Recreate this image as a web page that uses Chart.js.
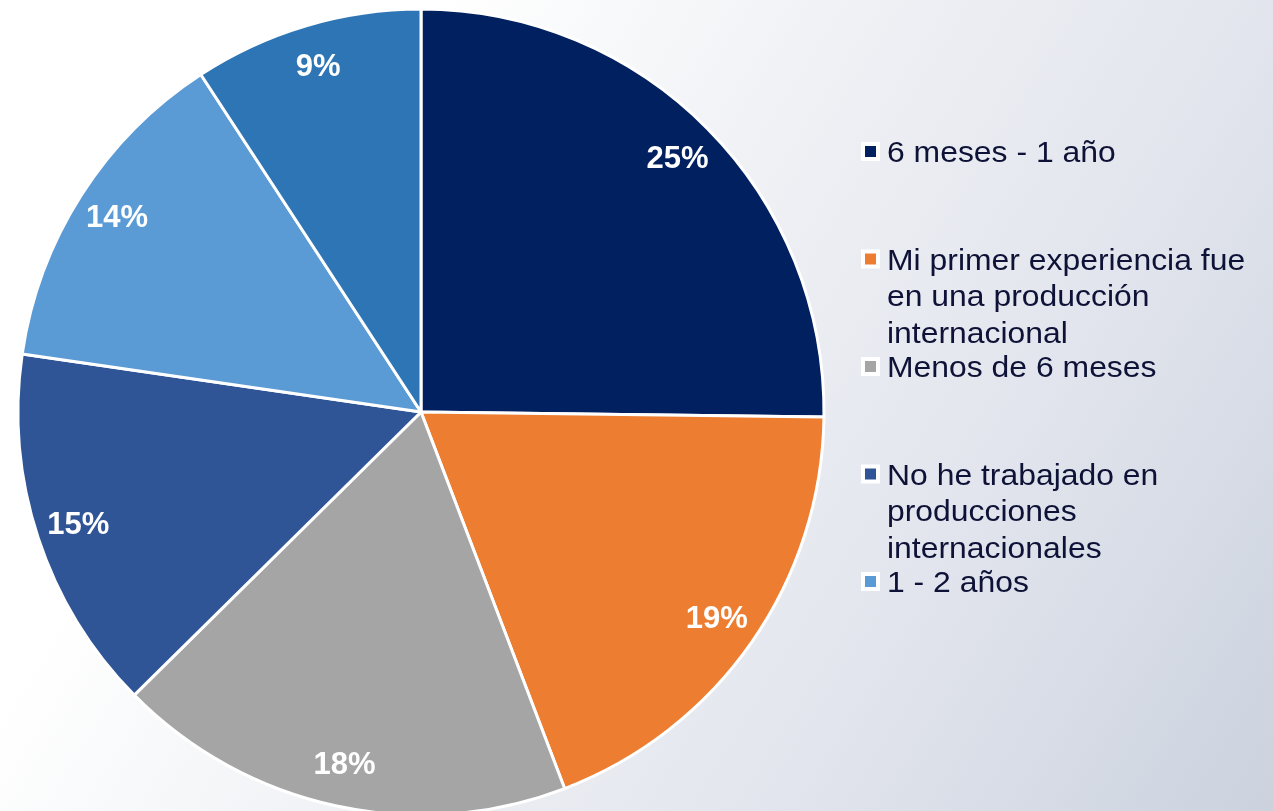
<!DOCTYPE html>
<html>
<head>
<meta charset="utf-8">
<script src="https://cdn.jsdelivr.net/npm/chart.js@4.4.1/dist/chart.umd.min.js"></script>
<style>
  html, body { margin: 0; padding: 0; overflow: hidden; }
  body {
    width: 1273px; height: 811px;
    background: linear-gradient(122deg, #ffffff 0%, #ffffff 25%, #eef0f4 50%, #e2e5ed 72%, #cbd2de 100%);
  }
  canvas { display: block; }
</style>
</head>
<body>
<canvas id="c" width="1273" height="811"></canvas>
<script>
// ---- data ----
const categories = [
  "6 meses - 1 año",
  "Mi primer experiencia fue en una producción internacional",
  "Menos de 6 meses",
  "No he trabajado en producciones internacionales",
  "1 - 2 años",
  "Más de 2 años"
];
const percentages = [25.2, 19.0, 18.4, 14.7, 13.5, 9.2];
const sliceColors = ["#002060", "#ED7D31", "#A5A5A5", "#2F5597", "#5B9BD5", "#2E75B6"];
const legendEntriesShown = 5;

// ---- percentage labels on slices ----
const sliceLabelPlugin = {
  id: 'sliceLabels',
  afterDatasetsDraw(chart) {
    const ctx = chart.ctx;
    const meta = chart.getDatasetMeta(0);
    const values = chart.data.datasets[0].data;
    ctx.save();
    ctx.fillStyle = '#ffffff';
    ctx.font = 'bold 31px "Liberation Sans", Arial, sans-serif';
    ctx.textAlign = 'center';
    ctx.textBaseline = 'middle';
    meta.data.forEach((arc, i) => {
      const p = arc.getProps(['x', 'y', 'startAngle', 'endAngle', 'outerRadius'], true);
      const mid = (p.startAngle + p.endAngle) / 2;
      const r = p.outerRadius * 0.895;
      ctx.fillText(Math.round(values[i]) + '%', p.x + Math.cos(mid) * r, p.y + Math.sin(mid) * r + 1);
    });
    ctx.restore();
  }
};

// ---- legend on the right ----
const sideLegendPlugin = {
  id: 'sideLegend',
  afterDraw(chart) {
    const ctx = chart.ctx;
    const labels = chart.data.labels;
    const colors = chart.data.datasets[0].backgroundColor;
    const area = chart.chartArea;
    const markerX = area.right + 37;
    const textX = area.right + 63;
    const firstBaseline = 162;
    const entryStep = 107.5;
    const lineH = 36.5;
    const scaleX = 1.1;
    const maxW = 375;
    ctx.save();
    ctx.font = '29px "Liberation Sans", Arial, sans-serif';
    ctx.textBaseline = 'alphabetic';
    ctx.textAlign = 'left';
    for (let i = 0; i < Math.min(legendEntriesShown, labels.length); i++) {
      const base = firstBaseline + i * entryStep;
      // wrap text
      const words = labels[i].split(' ');
      const lines = [];
      let cur = '';
      words.forEach(w => {
        const test = cur ? cur + ' ' + w : w;
        if (ctx.measureText(test).width * scaleX > maxW && cur) {
          lines.push(cur);
          cur = w;
        } else {
          cur = test;
        }
      });
      if (cur) lines.push(cur);
      // marker
      ctx.fillStyle = '#ffffff';
      ctx.fillRect(markerX, base - 20, 19, 19);
      ctx.fillStyle = colors[i];
      ctx.fillRect(markerX + 4, base - 16, 11, 11);
      // text
      ctx.fillStyle = '#0e1236';
      lines.forEach((ln, k) => {
        ctx.save();
        ctx.translate(textX, base + k * lineH);
        ctx.scale(scaleX, 1);
        ctx.fillText(ln, 0, 0);
        ctx.restore();
      });
    }
    ctx.restore();
  }
};

new Chart(document.getElementById('c'), {
  type: 'pie',
  data: {
    labels: categories,
    datasets: [{
      data: percentages,
      backgroundColor: sliceColors,
      borderColor: '#ffffff',
      borderWidth: 3
    }]
  },
  options: {
    responsive: false,
    devicePixelRatio: 1,
    animation: false,
    radius: 403,
    layout: { padding: { left: 18, right: 449, top: 13, bottom: 0 } },
    plugins: {
      legend: { display: false },
      tooltip: { enabled: false }
    },
    events: []
  },
  plugins: [sliceLabelPlugin, sideLegendPlugin]
});
</script>
</body>
</html>
